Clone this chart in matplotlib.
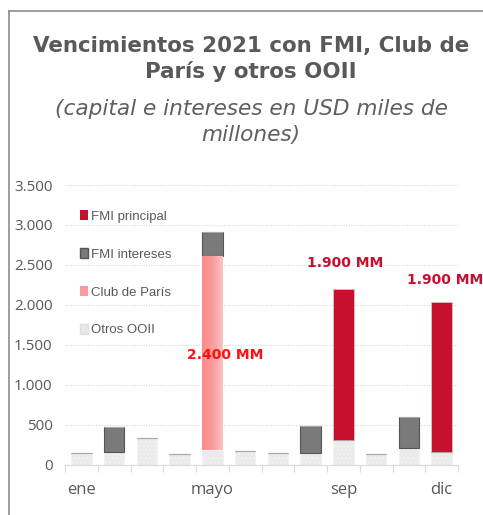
import matplotlib
matplotlib.use("Agg")
import matplotlib.pyplot as plt
import numpy as np
from matplotlib.patches import Patch
from matplotlib.lines import Line2D
from matplotlib.colors import LinearSegmentedColormap

months = ["ene", "feb", "mar", "abr", "mayo", "jun", "jul", "ago", "sep", "oct", "nov", "dic"]
otros_ooii = [150, 165, 340, 133, 187, 180, 155, 145, 312, 133, 208, 167]
club_paris = [0, 0, 0, 0, 2425, 0, 0, 0, 0, 0, 0, 0]
fmi_intereses = [0, 305, 0, 0, 296, 0, 0, 340, 0, 0, 388, 0]
fmi_principal = [0, 0, 0, 0, 0, 0, 0, 0, 1884, 0, 0, 1875]
shown_ticks = ["ene", "mayo", "sep", "dic"]
annotations = [("2.400 MM", 4.4, 1375, "#ff1010"),
               ("1.900 MM", 8.05, 2525, "#c8102e"),
               ("1.900 MM", 11.1, 2310, "#c8102e")]
yticks = [0, 500, 1000, 1500, 2000, 2500, 3000, 3500]

C_PRIN = "#c8102e"
C_INT = "#7a7a7a"
C_OTR = "#eaeaea"
C_CLUB = "#fb9a9a"
TXT = "#595959"
plt.rcParams['hatch.color'] = "#d8d8d8"

fig = plt.figure(figsize=(4.83, 5.15), dpi=100)
ax = fig.add_axes([65/483, 50/515, 393/483, 280/515])

x = np.arange(len(months))
w = 0.62
otr = np.array(otros_ooii, float)
club = np.array(club_paris, float)
intr = np.array(fmi_intereses, float)
prin = np.array(fmi_principal, float)

ax.bar(x, otr, w, color=C_OTR, edgecolor="#f2f2f2", hatch="....", linewidth=0.6, zorder=3)
base = otr.copy()
club_bars = ax.bar(x, club, w, bottom=base, color=C_CLUB, linewidth=0, zorder=3)
grad = np.linspace(0, 1, 64).reshape(1, -1)
cmap = LinearSegmentedColormap.from_list("club", ["#ff8a8a", "#fb9c9c", "#fcc4c4"])
for b, v in zip(club_bars, club):
    if v > 0:
        bx, by = b.get_x(), b.get_y()
        im = ax.imshow(grad, cmap=cmap, aspect="auto",
                       extent=[bx, bx + b.get_width(), by, by + b.get_height()], zorder=3.5)
        im.set_clip_path(b)
base += club
ax.bar(x, intr, w, bottom=base, color=C_INT, edgecolor="#555555", linewidth=0.8, zorder=3)
base += intr
ax.bar(x, prin, w, bottom=base, color=C_PRIN, edgecolor="#d0d0d0", linewidth=0.5, zorder=3)

ax.set_xlim(-0.5, 11.5)
ax.set_ylim(0, 3500)
ax.set_aspect("auto")
ax.set_yticks(yticks)
ax.set_yticklabels([f"{v:,}".replace(",", ".") for v in yticks], color=TXT, fontsize=11,
                   family=["Open Sans", "DejaVu Sans"])
ax.tick_params(axis="y", length=0, pad=9)
ax.set_xticks([months.index(m) for m in shown_ticks])
ax.set_xticklabels(shown_ticks, color=TXT, fontsize=12, family=["Open Sans", "DejaVu Sans"])
ax.set_xticks(np.arange(-0.5, 12, 1), minor=True)
ax.tick_params(axis="x", which="major", length=0, pad=12)
ax.tick_params(axis="x", which="minor", length=5, color="#d9d9d9", width=0.8)
for s in ["top", "right", "left"]:
    ax.spines[s].set_visible(False)
ax.spines["bottom"].set_color("#d9d9d9")
ax.yaxis.grid(True, linestyle=(0, (1, 1.5)), color="#d6d6d6", linewidth=0.8, zorder=0)
ax.set_axisbelow(True)

for txt, xi, yv, col in annotations:
    ax.text(xi, yv, txt, ha="center", va="center", color=col, fontsize=10, fontweight="bold", zorder=5)

handles = [Patch(facecolor=C_PRIN, edgecolor="none"),
           Patch(facecolor=C_INT, edgecolor="#555555"),
           Patch(facecolor="#fb9a9a", edgecolor="none"),
           Patch(facecolor=C_OTR, edgecolor="#e0e0e0", hatch="....")]
labels = ["FMI principal", "FMI intereses", "Club de París", "Otros OOII"]
leg = ax.legend(handles, labels, loc="upper left", bbox_to_anchor=(0.025, 0.93), frameon=False,
                handlelength=0.6, handleheight=0.85, handletextpad=0.25, labelspacing=1.9,
                prop={"size": 9.5, "family": ["Liberation Sans Narrow", "Liberation Sans"]},
                labelcolor=TXT, borderaxespad=0)

fig.text(0.52, 1 - 59/515, "Vencimientos 2021 con FMI, Club de\nParís y otros OOII", ha="center", va="center",
         fontsize=15.4, fontweight="bold", color="#595959", linespacing=1.3)
fig.text(0.52, 1 - 122/515, "(capital e intereses en USD miles de\nmillones)", ha="center", va="center",
         fontsize=15.6, style="italic", color="#5f5f5f", linespacing=1.35)

fig.add_artist(Line2D([9/483, 1], [1 - 11/515, 1 - 11/515], color="#8c8c8c", linewidth=1.2))
fig.add_artist(Line2D([9/483, 9/483], [0, 1 - 11/515], color="#8c8c8c", linewidth=1.2))

fig.savefig("out.png", dpi=100)
